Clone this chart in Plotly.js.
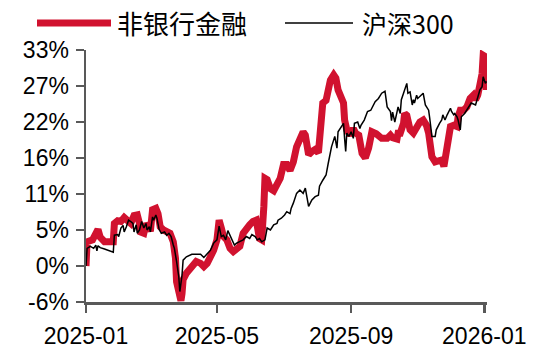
<!DOCTYPE html>
<html>
<head>
<meta charset="utf-8">
<script src="https://cdn.plot.ly/plotly-3.0.1.min.js"></script>
<style>
html,body{margin:0;padding:0;background:#fff;}
#chart{width:541px;height:354px;}
</style>
</head>
<body>
<div id="chart"></div>
<script>
// 沪深300 cumulative return (%)
const hs300Dates = ['2025-01-10','2025-01-11','2025-01-14','2025-01-17','2025-01-19','2025-01-20','2025-01-21','2025-01-23','2025-01-27','2025-02-04','2025-02-05','2025-02-08','2025-02-09','2025-02-11','2025-02-13','2025-02-14','2025-02-16','2025-02-18','2025-02-20','2025-02-22','2025-02-23','2025-02-25','2025-02-26','2025-02-28','2025-03-02','2025-03-04','2025-03-06','2025-03-07','2025-03-09','2025-03-10','2025-03-12','2025-03-13','2025-03-15','2025-03-16','2025-03-18','2025-03-20','2025-03-23','2025-03-25','2025-03-27','2025-03-29','2025-03-31','2025-04-01','2025-04-03','2025-04-05','2025-04-06','2025-04-08','2025-04-09','2025-04-12','2025-04-17','2025-04-25','2025-04-28','2025-05-01','2025-05-04','2025-05-07','2025-05-10','2025-05-12','2025-05-14','2025-05-16','2025-05-18','2025-05-20','2025-05-22','2025-05-24','2025-05-26','2025-05-28','2025-05-31','2025-06-03','2025-06-06','2025-06-09','2025-06-11','2025-06-14','2025-06-16','2025-06-18','2025-06-20','2025-06-23','2025-06-25','2025-06-28','2025-07-01','2025-07-04','2025-07-05','2025-07-08','2025-07-11','2025-07-13','2025-07-16','2025-07-17','2025-07-19','2025-07-22','2025-07-25','2025-07-28','2025-07-30','2025-08-01','2025-08-02','2025-08-05','2025-08-08','2025-08-11','2025-08-12','2025-08-15','2025-08-18','2025-08-20','2025-08-23','2025-08-26','2025-08-28','2025-08-29','2025-09-01','2025-09-03','2025-09-04','2025-09-05','2025-09-06','2025-09-08','2025-09-10','2025-09-12','2025-09-13','2025-09-16','2025-09-18','2025-09-19','2025-09-22','2025-09-25','2025-09-28','2025-10-02','2025-10-05','2025-10-08','2025-10-11','2025-10-13','2025-10-16','2025-10-17','2025-10-18','2025-10-20','2025-10-22','2025-10-23','2025-10-25','2025-10-26','2025-10-28','2025-10-29','2025-10-31','2025-11-01','2025-11-03','2025-11-05','2025-11-06','2025-11-07','2025-11-09','2025-11-10','2025-11-12','2025-11-13','2025-11-15','2025-11-17','2025-11-20','2025-11-21','2025-11-23','2025-11-26','2025-11-27','2025-11-30','2025-12-02','2025-12-03','2025-12-05','2025-12-07','2025-12-10','2025-12-11','2025-12-13','2025-12-14','2025-12-16','2025-12-17','2025-12-19','2025-12-20','2025-12-23','2025-12-26','2025-12-29','2026-01-02','2026-01-03','2026-01-04','2026-01-06','2026-01-08','2026-01-09','2026-01-11','2026-01-12'];
const hs300Values = [0,2.7,3.0,2.7,3.2,2.3,3.1,2.8,2.6,2.1,4.7,4.8,4.5,5.8,6.2,5.2,6.0,7.0,6.8,6.5,5.2,6.3,5.0,5.5,6.8,5.8,6.5,5.5,6.0,5.2,7.5,7.0,7.8,7.3,5.6,5.0,5.2,4.7,5.0,4.5,3.2,2.7,0.7,-1.6,-3.9,-1.4,0.9,1.4,1.8,1.8,1.3,1.8,2.4,3.5,4.0,6.1,4.5,4.7,4.0,5.4,4.7,4.0,3.2,3.5,3.7,4.0,4.5,4.2,4.8,4.5,4.0,4.2,3.7,4.0,5.8,5.5,6.3,6.5,7.0,7.3,7.8,8.3,8.0,8.8,9.6,11.1,11.6,11.1,11.9,9.6,9.1,10.1,10.6,10.8,12.2,13.1,13.9,15.7,18.2,19.8,18.0,20.5,21.3,21.8,19.5,17.5,20.3,19.8,20.5,19.5,21.8,22.0,21.0,21.5,22.3,23.6,23.8,25.1,25.6,26.4,26.7,24.3,23.6,22.2,23.5,22.0,23.5,24.3,23.3,25.4,26.4,26.9,27.9,26.4,26.6,24.6,25.4,24.9,26.1,25.6,25.9,26.1,26.4,24.6,23.8,22.6,19.8,19.8,20.8,21.8,22.3,23.1,22.3,23.1,24.1,23.6,23.1,23.3,22.8,22.3,20.8,22.8,23.3,24.1,24.9,24.6,25.1,25.9,26.9,27.4,28.9,27.9,28.2];

// 非银行金融 cumulative return (%)
const finDates = ['2025-01-10','2025-01-11','2025-01-16','2025-01-19','2025-01-21','2025-01-23','2025-01-27','2025-02-04','2025-02-05','2025-02-08','2025-02-11','2025-02-14','2025-02-17','2025-02-20','2025-02-23','2025-02-26','2025-02-28','2025-03-01','2025-03-04','2025-03-06','2025-03-09','2025-03-10','2025-03-12','2025-03-15','2025-03-17','2025-03-19','2025-03-22','2025-03-25','2025-03-28','2025-03-31','2025-04-02','2025-04-03','2025-04-05','2025-04-07','2025-04-08','2025-04-09','2025-04-12','2025-04-15','2025-04-18','2025-04-21','2025-04-25','2025-04-28','2025-05-01','2025-05-04','2025-05-07','2025-05-10','2025-05-12','2025-05-14','2025-05-16','2025-05-19','2025-05-22','2025-05-25','2025-05-28','2025-05-31','2025-06-03','2025-06-06','2025-06-09','2025-06-12','2025-06-15','2025-06-18','2025-06-20','2025-06-22','2025-06-23','2025-06-25','2025-06-28','2025-07-01','2025-07-04','2025-07-07','2025-07-10','2025-07-13','2025-07-16','2025-07-19','2025-07-22','2025-07-25','2025-07-28','2025-07-30','2025-08-01','2025-08-02','2025-08-05','2025-08-08','2025-08-11','2025-08-12','2025-08-14','2025-08-15','2025-08-18','2025-08-20','2025-08-22','2025-08-25','2025-08-27','2025-08-29','2025-09-01','2025-09-03','2025-09-04','2025-09-06','2025-09-09','2025-09-12','2025-09-14','2025-09-17','2025-09-20','2025-09-23','2025-09-26','2025-09-29','2025-10-03','2025-10-08','2025-10-13','2025-10-16','2025-10-18','2025-10-22','2025-10-23','2025-10-25','2025-10-28','2025-10-29','2025-10-31','2025-11-03','2025-11-06','2025-11-09','2025-11-12','2025-11-15','2025-11-18','2025-11-20','2025-11-23','2025-11-26','2025-11-29','2025-12-02','2025-12-04','2025-12-06','2025-12-08','2025-12-10','2025-12-13','2025-12-16','2025-12-17','2025-12-19','2025-12-22','2025-12-25','2025-12-28','2025-12-31','2026-01-02','2026-01-04','2026-01-06','2026-01-08','2026-01-09','2026-01-11','2026-01-12'];
const finValues = [0,3.7,4.0,5.0,5.6,4.4,3.7,3.7,6.5,6.9,6.8,7.4,7.0,6.5,7.7,7.8,6.5,5.2,5.0,6.5,5.8,5.3,8.6,8.8,8.0,6.0,5.5,5.2,5.0,3.7,1.2,-2.4,-4.7,-5.3,-4.2,-2.1,-1.1,-0.6,0.2,0.7,0.4,-0.1,0.4,1.2,2.4,4.0,7.0,5.8,4.5,4.0,2.7,2.2,2.7,3.0,5.0,5.8,6.3,6.8,7.0,4.2,4.0,9.1,13.4,13.2,11.8,11.5,12.3,13.4,15.5,15.5,14.6,15.9,18.2,19.2,20.5,20.0,18.2,17.0,17.5,17.8,17.3,19.8,22.6,24.9,25.3,26.9,28.4,29.2,28.7,26.9,25.9,24.9,22.3,20.8,20.0,21.0,20.3,20.0,17.2,16.5,18.0,20.5,20.2,19.5,19.5,20.0,19.6,19.4,20.3,20.3,21.8,23.3,23.0,20.8,20.3,21.2,22.0,22.3,21.5,20.3,16.7,15.9,16.2,16.2,15.2,17.0,19.8,21.3,21.5,21.3,22.8,23.8,23.8,24.3,25.6,26.1,25.4,26.1,27.7,29.4,32.2,32.0,26.9];

const seriesNames = ['非银行金融', '沪深300'];
const xTickVals = ['2025-01-10','2025-05-10','2025-09-10','2026-01-10'];
const xTickText = ['2025-01','2025-05','2025-09','2026-01'];
const yTickVals = [-5.5, 0, 5.5, 11, 16.5, 22, 27.5, 33];
const yTickText = ['-6%','0%','5%','11%','16%','22%','27%','33%'];

const RED = '#D1122F';
const AXIS = '#595959';

const traces = [
  {x: finDates, y: finValues, name: seriesNames[0], type: 'scatter', mode: 'lines',
   line: {color: RED, width: 7, shape: 'linear'}, showlegend: false},
  {x: hs300Dates, y: hs300Values, name: seriesNames[1], type: 'scatter', mode: 'lines',
   line: {color: '#000000', width: 1.5}, showlegend: false}
];

// legend drawn manually (paper coords, plot area 86..487 x 50..302 px)
const W = 401, H = 252, L = 86, B = 302;
const px = X => (X - L) / W;
const py = Y => (B - Y) / H;

const layout = {
  width: 541, height: 354,
  margin: {l: L, r: 541 - L - W, t: 50, b: 354 - B},
  paper_bgcolor: '#ffffff', plot_bgcolor: '#ffffff',
  font: {family: 'Liberation Sans, Arial, sans-serif', size: 23, color: '#000000'},
  showlegend: false,
  xaxis: {
    type: 'date', range: ['2025-01-10', '2026-01-12 12:00'],
    tickmode: 'array', tickvals: xTickVals, ticktext: xTickText,
    showgrid: false, zeroline: false,
    showline: true, linecolor: AXIS, linewidth: 2.5,
    ticks: 'outside', ticklen: 8, tickwidth: 2.5, tickcolor: AXIS,
    ticklabelstandoff: 4,
    tickfont: {family: 'Liberation Sans, Arial, sans-serif', size: 23, color: '#000'}
  },
  yaxis: {
    range: [-5.5, 33],
    tickmode: 'array', tickvals: yTickVals, ticktext: yTickText,
    showgrid: false, zeroline: false,
    showline: true, linecolor: AXIS, linewidth: 2.5,
    ticks: 'outside', ticklen: 8, tickwidth: 2.5, tickcolor: AXIS,
    ticklabelstandoff: 2,
    tickfont: {family: 'Liberation Sans, Arial, sans-serif', size: 23, color: '#000'}
  },
  shapes: [
    {type: 'line', xref: 'paper', yref: 'paper', x0: px(37), x1: px(111), y0: py(23), y1: py(23),
     line: {color: RED, width: 7}},
    {type: 'line', xref: 'paper', yref: 'paper', x0: px(285), x1: px(353), y0: py(23), y1: py(23),
     line: {color: '#000000', width: 1.5}}
  ],
  annotations: [
    {xref: 'paper', yref: 'paper', x: px(115), y: py(23), xanchor: 'left', yanchor: 'middle',
     text: seriesNames[0], showarrow: false,
     font: {family: 'Noto Sans CJK SC', size: 26, color: '#000'}},
    {xref: 'paper', yref: 'paper', x: px(360), y: py(23), xanchor: 'left', yanchor: 'middle',
     text: seriesNames[1], showarrow: false,
     font: {family: 'Noto Sans CJK SC', size: 25, color: '#000'}}
  ]
};

Plotly.newPlot('chart', traces, layout, {displayModeBar: false, staticPlot: true});
</script>
</body>
</html>
